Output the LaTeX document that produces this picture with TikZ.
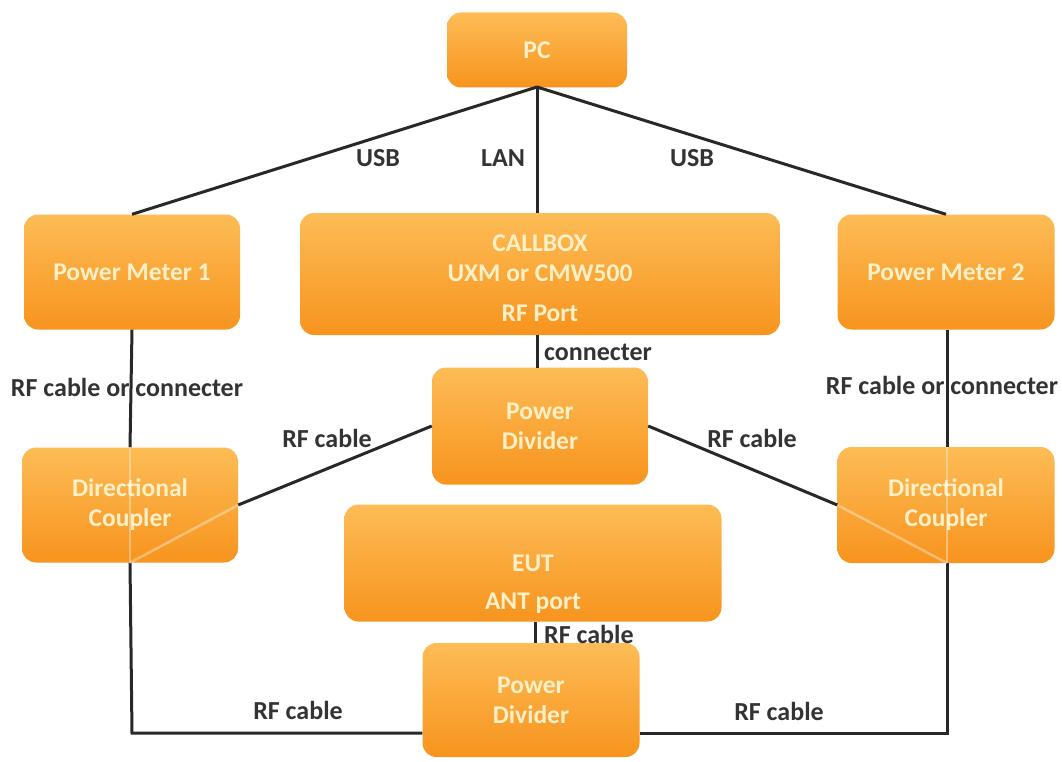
\documentclass[tikz,border=0pt]{standalone}
\usepackage{fontspec}
\newfontfamily\carlito{Carlito}
\definecolor{boxtop}{RGB}{253,188,86}
\definecolor{boxbot}{RGB}{247,148,30}
\definecolor{boxtxt}{RGB}{255,240,200}
\definecolor{lbltxt}{RGB}{51,51,51}
\definecolor{wirec}{RGB}{40,40,40}
\newcommand{\boxfont}{\carlito\bfseries\fontsize{25.5}{30}\selectfont}
\newcommand{\lblfont}{\carlito\bfseries\fontsize{26}{30}\selectfont}
\tikzset{
  box/.style={rectangle, rounded corners=14pt, top color=boxtop, bottom color=boxbot, draw=none, text=boxtxt, font=\boxfont, align=center, inner sep=0pt},
  btxt/.style={text=boxtxt, font=\boxfont, align=center, inner sep=0pt},
  lbl/.style={text=lbltxt, font=\lblfont, inner sep=0pt},
  wire/.style={draw=wirec, line width=3pt},
  ghost/.style={draw=white, draw opacity=0.35, line width=2.6pt}
}
\begin{document}
\begin{tikzpicture}[x=1pt,y=-1pt]
\useasboundingbox (0,0) rectangle (1062,762);
% boxes
\node[box, minimum width=180pt, minimum height=75pt] (pc) at (537,50) {PC};
\node[box, minimum width=216pt, minimum height=115pt] (pm1) at (132,272) {Power Meter 1};
\node[box, minimum width=480pt, minimum height=122pt] (cb) at (540,274) {};
\node[btxt] (cbt1) at (540,243) {CALLBOX};
\node[btxt] (cbt2) at (540,273) {UXM or CMW500};
\node[btxt] (cbt3) at (540,313) {RF Port};
\node[box, minimum width=217pt, minimum height=115pt] (pm2) at (946,272) {Power Meter 2};
\node[box, minimum width=216pt, minimum height=117pt] (pd1) at (540,426) {Power\\Divider};
\node[box, minimum width=216pt, minimum height=115pt] (dc1) at (130,505) {Directional\\Coupler};
\node[box, minimum width=217pt, minimum height=116pt] (dc2) at (946,505) {Directional\\Coupler};
\node[box, minimum width=377pt, minimum height=117pt] (eut) at (533,563) {};
\node[btxt] (eutt1) at (533,563) {EUT};
\node[btxt] (eutt2) at (533,603) {ANT port};
\node[box, minimum width=217pt, minimum height=114pt] (pd2) at (531,700) {Power\\Divider};
% coordinates
\coordinate (pcb) at (537,87);
\coordinate (blc) at (132,733);
\coordinate (brc) at (947,733);
\coordinate (pm2b) at (947,330);
\coordinate (dc2t) at (947,447);
\coordinate (dc2b) at (947,563);
\coordinate (cbt) at (537,213);
\coordinate (cbb) at (537,335);
\coordinate (pd1t) at (537,368);
\coordinate (eutb) at (535,622);
\coordinate (pd2t) at (535,643);
% wires
\draw[wire] (pcb) -- (pm1.north);
\draw[wire] (pcb) -- (cbt);
\draw[wire] (pcb) -- (pm2.north);
\draw[wire] (cbb) -- (pd1t);
\draw[wire] (pm1.south) -- (dc1.north);
\draw[wire] (dc1.south) -- (blc) -- (pd2.west |- blc);
\draw[wire] (pm2b) -- (dc2t);
\draw[wire] (dc2b) -- (brc) -- (pd2.east |- brc);
\draw[wire] (pd1.west) -- (dc1.east);
\draw[wire] (pd1.east) -- (dc2.west);
\draw[wire] (eutb) -- (pd2t);
% ghost lines through couplers
\draw[ghost] (dc1.north) -- (dc1.south);
\draw[ghost] (dc1.east) -- (dc1.south);
\draw[ghost] (dc2t) -- (dc2b);
\draw[ghost] (dc2.west) -- (dc2b);
% labels
\node[lbl] (l1) at (378,158) {USB};
\node[lbl] (l2) at (503,158) {LAN};
\node[lbl] (l3) at (692,158) {USB};
\node[lbl, anchor=west] (l4) at (544,352) {connecter};
\node[lbl] (l5) at (127,387) {RF cable or connecter};
\node[lbl] (l6) at (942,385) {RF cable or connecter};
\node[lbl] (l7) at (327,438) {RF cable};
\node[lbl] (l8) at (752,438) {RF cable};
\node[lbl, anchor=west] (l9) at (544,634) {RF cable};
\node[lbl] (l10) at (298,710) {RF cable};
\node[lbl] (l11) at (779,711) {RF cable};
\end{tikzpicture}
\end{document}
